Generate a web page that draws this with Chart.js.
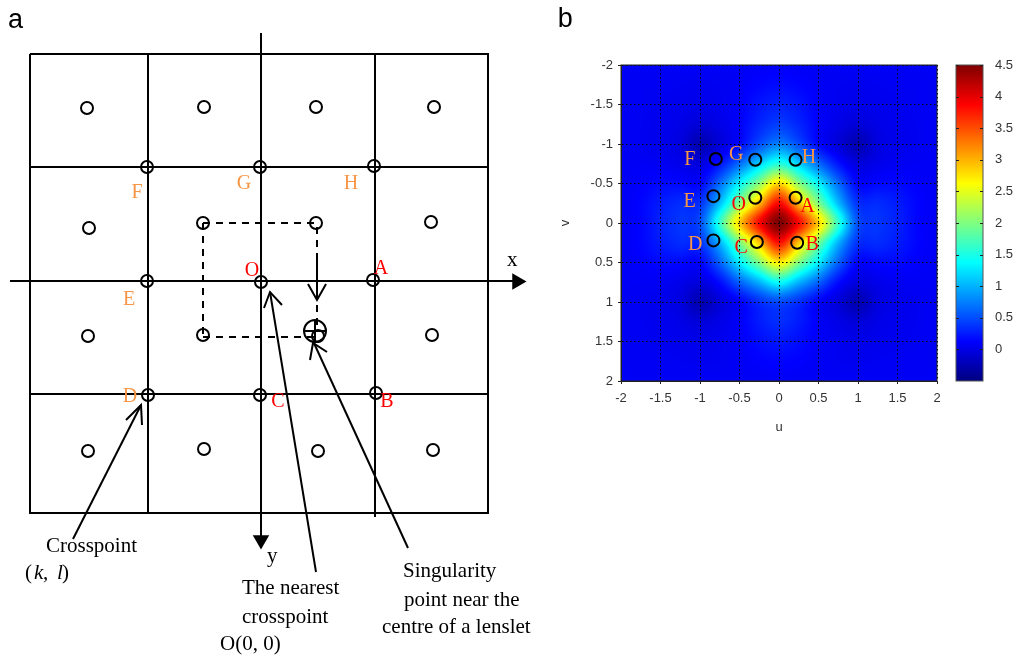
<!DOCTYPE html>
<html><head><meta charset="utf-8">
<script src="https://cdn.jsdelivr.net/npm/chart.js@4"></script>
<style>
html,body{margin:0;padding:0;background:#fff;overflow:hidden}
canvas{position:absolute;display:block}
</style></head><body>
<canvas id="panelA" width="550" height="658" style="left:0;top:0"></canvas>
<canvas id="panelB" width="400" height="450" style="left:550px;top:0"></canvas>
<canvas id="panelC" width="68" height="450" style="left:950px;top:0"></canvas>
<script>
/* ---------- panel a : schematic, units relative to the crosspoint O ---------- */
const frameLine = [[-231,-227],[227,-227],[227,232],[-231,232],[-231,-227]];
const innerLines = [
  [[-113,-227],[-113,232]], [[114,-227],[114,236]],
  [[-231,-114],[227,-114]], [[-231,113],[227,113]]
];
const axisLines = [[[-251,0],[252,0]], [[0,-248],[0,255]]];
const axisTips = [[256,0.5],[0,259]];
const axisTipAngles = [90,180];
const dashedLines = [
  [[-58,-58],[55,-58]], [[-58,-58],[-58,56]], [[-58,56],[54,56]], [[56,-54],[56,50]]
];
const arrowLines = [
  [[56,-28],[56,18]], [[47,3],[56,19],[65,3]],
  [[55,291],[9,11]], [[3,27],[9,11],[21,24]],
  [[147,267],[52,60]], [[49,79],[52,62],[66,71]],
  [[-188,258],[-120,124]], [[-135,139],[-120,124],[-119,144]]
];
const lensletX = [-174,-57,55,173,-172,-58,55,170,-173,-58,57,171,-173,-57,57,172];
const lensletY = [-173,-174,-174,-174,-53,-58,-58,-59,55,54,55,54,170,168,170,169];
const crossX = [-114,-1,113,-114,0,112,-113,-1,115];
const crossY = [-114,-114,-115,0,1,-1,114,114,112];
const singularity = [[54,50]];
const singularityBar = [[[43,50],[65,50]], [[54,39],[54,61]]];

const orangeLabelsA = ['F','G','H','E','D'];
const orangeXA = [-124,-17,90,-132,-131];
const orangeYA = [-88,-97,-97,19,116];
const redLabelsA = ['O','A','C','B'];
const redXA = [-9,120,17,126];
const redYA = [-10,-12,121,121];
const blackLabelsA = ['x','y','Crosspoint','The nearest','crosspoint','O(0, 0)','Singularity','point near the','centre of a lenslet','(',', ',')'];
const blackXA = [246,6,-215,-19,-19,-41,142,143,121,-236,-218,-199];
const blackYA = [-21,275,265,307,336,363,290,319,346,292,292,292];
const italicLabelsA = ['k','l'];
const italicXA = [-227,-204];
const italicYA = [292,292];

/* ---------- panel b : field ---------- */
const uGrid = [-2,-1.75,-1.5,-1.25,-1,-.75,-.5,-.25,0,.25,.5,.75,1,1.25,1.5,1.75,2];
const vGrid = [-2,-1.75,-1.5,-1.25,-1,-.75,-.5,-.25,0,.25,.5,.75,1,1.25,1.5,1.75,2];
const field = [
 [.08,.08,.08,.08,.08,.08,.08,.09,.1,.09,.08,.08,.08,.08,.08,.08,.08],
 [.08,.07,.07,.06,.05,.06,.09,.14,.17,.14,.09,.06,.05,.06,.07,.07,.08],
 [.08,.07,.05,.04,.02,.05,.11,.22,.28,.22,.11,.05,.02,.04,.05,.07,.08],
 [.08,.06,.04,.01,-.06,.01,.12,.3,.42,.3,.12,.01,-.06,.01,.04,.06,.08],
 [.08,.06,.03,-.03,-.24,-.05,.16,.5,.75,.5,.16,-.05,-.24,-.03,.03,.06,.08],
 [.08,.08,.07,.03,-.03,.22,.65,1.15,1.55,1.15,.65,.22,-.03,.03,.07,.08,.08],
 [.08,.11,.16,.16,.14,.65,1.35,2.05,2.8,2.05,1.35,.65,.14,.16,.16,.11,.08],
 [.08,.14,.25,.33,.36,1.05,2,2.95,3.85,2.95,2,1.05,.36,.33,.25,.14,.08],
 [.08,.14,.28,.38,.5,1.6,2.85,3.85,4.5,3.85,2.85,1.6,.5,.38,.28,.14,.08],
 [.08,.14,.25,.33,.36,1,1.95,2.9,3.8,2.9,1.95,1,.36,.33,.25,.14,.08],
 [.08,.11,.16,.16,.14,.6,1.3,2,2.7,2,1.3,.6,.14,.16,.16,.11,.08],
 [.08,.08,.07,.03,-.03,.18,.6,1,1.4,1,.6,.18,-.03,.03,.07,.08,.08],
 [.08,.06,.03,-.03,-.24,-.05,.12,.35,.48,.35,.12,-.05,-.24,-.03,.03,.06,.08],
 [.08,.06,.04,.01,-.06,.01,.1,.25,.34,.25,.1,.01,-.06,.01,.04,.06,.08],
 [.08,.07,.05,.04,.02,.05,.1,.18,.23,.18,.1,.05,.02,.04,.05,.07,.08],
 [.08,.07,.07,.06,.05,.06,.08,.12,.14,.12,.08,.06,.05,.06,.07,.07,.08],
 [.08,.08,.08,.08,.08,.08,.08,.08,.09,.08,.08,.08,.08,.08,.08,.08,.08]
];
const axisTicks = [-2,-1.5,-1,-.5,0,.5,1,1.5,2];
const colorTicks = [0,.5,1,1.5,2,2.5,3,3.5,4,4.5];
const colorMin = -.5, colorMax = 4.5;
const markerU = [-.8,-.3,.21,-.83,-.3,.21,-.83,-.28,.23];
const markerV = [-.81,-.8,-.8,-.34,-.32,-.32,.22,.24,.25];
const orangeLabelsB = ['F','G','H','E','D'];
const orangeUB = [-1.13,-.54,.38,-1.13,-1.06];
const orangeVB = [-.8,-.86,-.83,-.27,.28];
const redLabelsB = ['O','A','C','B'];
const redUB = [-.51,.36,-.48,.42];
const redVB = [-.23,-.21,.31,.28];

const SERIF = '"Liberation Serif"';
const SANS = '"Liberation Sans"';
const BLACK = '#000', ORANGE = '#f79646', RED = '#ff0000';

function jet(v){
  const t = Math.max(0,Math.min(1,(v-colorMin)/(colorMax-colorMin)));
  const ch = d => Math.round(255*Math.max(0,Math.min(1,1.5-Math.abs(4*t-d))));
  return [ch(3),ch(2),ch(1)];
}
function cr(a,b,c,d,t){
  return .5*(2*b+(c-a)*t+(2*a-5*b+4*c-d)*t*t+(3*b-a-3*c+d)*t*t*t);
}
function sampleField(u,v){
  const n = uGrid.length-1, step = uGrid[1]-uGrid[0];
  const fx = Math.max(0,Math.min(n-1e-6,(u-uGrid[0])/step)), fy = Math.max(0,Math.min(n-1e-6,(v-vGrid[0])/step));
  const i = Math.floor(fx), j = Math.floor(fy), tx = fx-i, ty = fy-j;
  const at = (r,c) => field[Math.max(0,Math.min(n,r))][Math.max(0,Math.min(n,c))];
  const row = r => cr(at(r,i-1),at(r,i),at(r,i+1),at(r,i+2),tx);
  return cr(row(j-1),row(j),row(j+1),row(j+2),ty);
}
const heatmapPlugin = {
  id:'heatmap',
  beforeDraw(chart){
    const {ctx,chartArea:a,scales:{x,y}} = chart;
    const w = Math.round(a.right-a.left), h = Math.round(a.bottom-a.top);
    const off = document.createElement('canvas'); off.width = w; off.height = h;
    const oc = off.getContext('2d'), img = oc.createImageData(w,h);
    for(let r=0;r<h;r++) for(let c=0;c<w;c++){
      const rgb = jet(sampleField(x.getValueForPixel(a.left+c+.5),y.getValueForPixel(a.top+r+.5)));
      const k = 4*(r*w+c);
      img.data[k]=rgb[0]; img.data[k+1]=rgb[1]; img.data[k+2]=rgb[2]; img.data[k+3]=255;
    }
    oc.putImageData(img,0,0);
    ctx.drawImage(off,a.left,a.top);
  },
  afterDraw(chart){
    const {ctx,chartArea:a} = chart;
    ctx.save(); ctx.strokeStyle='#222'; ctx.lineWidth=1;
    ctx.strokeRect(a.left,a.top,a.right-a.left,a.bottom-a.top); ctx.restore();
  }
};
const colorbarPlugin = {
  id:'colorbar',
  beforeDatasetsDraw(chart){
    const {ctx,chartArea:a,scales:{y}} = chart;
    for(let r=Math.floor(a.top);r<a.bottom;r++){
      const rgb = jet(y.getValueForPixel(r+.5));
      ctx.fillStyle = `rgb(${rgb[0]},${rgb[1]},${rgb[2]})`;
      ctx.fillRect(a.left,r,a.right-a.left,1);
    }
    ctx.save(); ctx.strokeStyle='#555'; ctx.lineWidth=1;
    ctx.strokeRect(a.left,a.top,a.right-a.left,a.bottom-a.top);
    ctx.strokeStyle='#222';
    colorTicks.forEach(v=>{
      const p = Math.round(y.getPixelForValue(v))+.5;
      ctx.beginPath();
      ctx.moveTo(a.left,p); ctx.lineTo(a.left+3,p);
      ctx.moveTo(a.right-3,p); ctx.lineTo(a.right,p);
      ctx.stroke();
    });
    ctx.restore();
  }
};
const textPlugin = {
  id:'textLayer',
  afterDraw(chart){
    const {ctx,scales:{x,y}} = chart;
    (chart.options.plugins.textLayer.groups||[]).forEach(g=>{
      ctx.save();
      ctx.font = g.font; ctx.fillStyle = g.color;
      ctx.textAlign = g.align||'center'; ctx.textBaseline = 'middle';
      g.texts.forEach((t,i)=>ctx.fillText(t,x.getPixelForValue(g.xs[i]),y.getPixelForValue(g.ys[i])));
      ctx.restore();
    });
  }
};
const pts = a => a.map(p=>({x:p[0],y:p[1]}));
const xy = (xs,ys) => xs.map((v,i)=>({x:v,y:ys[i]}));
const line = (poly,width,dash) => ({type:'line',data:pts(poly),borderColor:BLACK,borderWidth:width,borderDash:dash||[],pointRadius:0,fill:false,tension:0,clip:false});
const rings = (data,r,w) => ({type:'scatter',data,pointStyle:'circle',pointRadius:r,pointBorderWidth:w,pointBorderColor:BLACK,pointBackgroundColor:'rgba(0,0,0,0)',borderColor:BLACK,backgroundColor:'rgba(0,0,0,0)',clip:false});

const base = {responsive:false,animation:false,events:[],plugins:{legend:{display:false},tooltip:{enabled:false},title:{display:false}}};

new Chart(document.getElementById('panelA'),{
  type:'scatter',
  data:{datasets:[
    line(frameLine,2),
    ...innerLines.map(l=>line(l,2)),
    ...axisLines.map(l=>line(l,2)),
    ...dashedLines.map(l=>line(l,2,[7,6])),
    ...arrowLines.map(l=>line(l,2)),
    ...singularityBar.map(l=>line(l,2)),
    rings(xy(lensletX,lensletY),6,2),
    rings(xy(crossX,crossY),6,2),
    rings(pts(singularity),11,2),
    {type:'scatter',data:pts(axisTips),pointStyle:'triangle',pointRadius:9.5,pointRotation:axisTipAngles,pointBackgroundColor:BLACK,pointBorderColor:BLACK,pointBorderWidth:0,clip:false}
  ]},
  options:{...base,
    layout:{padding:0,autoPadding:false},
    scales:{
      x:{type:'linear',display:false,min:-261,max:289},
      y:{type:'linear',display:false,reverse:true,min:-281,max:377}
    },
    plugins:{...base.plugins,textLayer:{groups:[
      {font:`20px ${SERIF}`,color:ORANGE,texts:orangeLabelsA,xs:orangeXA,ys:orangeYA},
      {font:`20px ${SERIF}`,color:RED,texts:redLabelsA,xs:redXA,ys:redYA},
      {font:`21px ${SERIF}`,color:BLACK,align:'left',texts:blackLabelsA,xs:blackXA,ys:blackYA},
      {font:`italic 21px ${SERIF}`,color:BLACK,align:'left',texts:italicLabelsA,xs:italicXA,ys:italicYA},
      {font:`27px ${SANS}`,color:BLACK,align:'left',texts:['a'],xs:[-253],ys:[-260]}
    ]}}
  },
  plugins:[textPlugin]
});

const tickFont = {family:'Liberation Sans',size:13};
const setTicks = list => s => { s.ticks = list.map(v=>({value:v})); };
new Chart(document.getElementById('panelB'),{
  type:'scatter',
  data:{datasets:[rings(xy(markerU,markerV),6,2)]},
  options:{...base,
    layout:{padding:{left:0,top:65,right:13,bottom:0},autoPadding:false},
    scales:{
      x:{type:'linear',position:'bottom',min:-2,max:2,
        afterBuildTicks:setTicks(axisTicks),
        afterFit(s){s.height=69;},
        grid:{color:BLACK,lineWidth:1,tickColor:'#222',tickLength:3,tickBorderDash:[]},
        border:{display:true,color:'#222',dash:[1.5,2.5]},
        ticks:{color:'#333',font:tickFont,padding:7,maxRotation:0,autoSkip:false,callback:v=>String(v)},
        title:{display:true,text:'u',color:'#333',font:tickFont,padding:{top:0,bottom:15}}
      },
      y:{type:'linear',position:'left',reverse:true,min:-2,max:2,
        afterBuildTicks:setTicks(axisTicks),
        afterFit(s){s.width=71;},
        grid:{color:BLACK,lineWidth:1,tickColor:'#222',tickLength:3,tickBorderDash:[]},
        border:{display:true,color:'#222',dash:[1.5,2.5]},
        ticks:{color:'#333',font:tickFont,padding:5,autoSkip:false,callback:v=>String(v)},
        title:{display:true,text:'v',color:'#333',font:tickFont,padding:{top:8,bottom:0}}
      }
    },
    plugins:{...base.plugins,textLayer:{groups:[
      {font:`20px ${SERIF}`,color:ORANGE,texts:orangeLabelsB,xs:orangeUB,ys:orangeVB},
      {font:`20px ${SERIF}`,color:RED,texts:redLabelsB,xs:redUB,ys:redVB},
      {font:`27px ${SANS}`,color:BLACK,align:'left',texts:['b'],xs:[-2.8],ys:[-2.58]}
    ]}}
  },
  plugins:[heatmapPlugin,textPlugin]
});

new Chart(document.getElementById('panelC'),{
  type:'scatter',
  data:{datasets:[{data:[]}]},
  options:{...base,
    layout:{padding:{left:6,top:65,right:0,bottom:69},autoPadding:false},
    scales:{
      x:{type:'linear',display:false,min:0,max:1},
      y:{type:'linear',position:'right',min:colorMin,max:colorMax,
        afterBuildTicks:setTicks(colorTicks),
        afterFit(s){s.width=35;},
        grid:{display:false,drawTicks:false},
        border:{display:false},
        ticks:{color:'#333',font:tickFont,padding:12,autoSkip:false,callback:v=>String(v)}
      }
    }
  },
  plugins:[colorbarPlugin]
});
</script>
</body></html>
